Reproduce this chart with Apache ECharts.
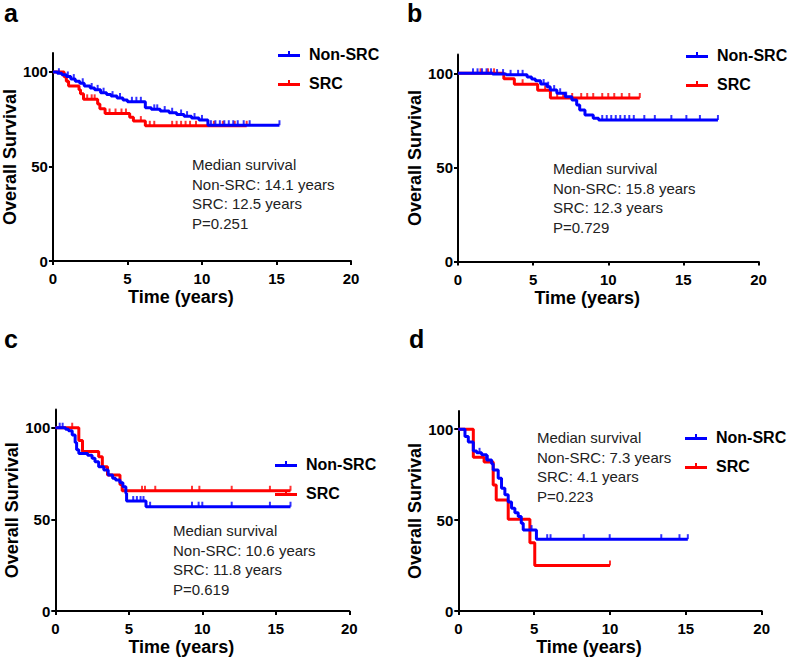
<!DOCTYPE html>
<html><head><meta charset="utf-8">
<script src="https://cdn.jsdelivr.net/npm/echarts@6/dist/echarts.min.js"></script>
<style>html,body{margin:0;padding:0;background:#fff}#c{width:787px;height:661px}</style>
</head><body><div id="c"></div>
<script>
// ---------- data ----------
const xTickValues = [0, 5, 10, 15, 20];
const yTickValues = [0, 50, 100];
const seriesNames = ['Non-SRC', 'SRC'];

// Panel a
const aNonT = [0.3,0.6,0.9,1.2,1.5,1.8,2.1,2.5,2.8,3.2,3.6,3.9,4.3,4.7,5.0,6.2,6.6,7.2,7.8,8.3,8.8,9.3,9.8,10.4];
const aNonS = [99.3,98.5,97.6,96.2,95.0,94.0,92.5,91.5,90.5,89.0,88.0,87.2,86.2,85.2,84.2,81.0,80.2,79.3,78.4,77.5,76.6,75.6,74.6,71.8];
const aNonEnd = 15.2;
const aNonCens = [0.4,1.0,1.4,2.0,2.6,3.0,3.4,4.0,4.5,5.3,5.6,5.9,6.8,7.0,7.5,8.0,8.6,9.0,9.5,10.0,10.6,10.9,11.2,11.5,11.8,12.1,12.4,12.8,13.2,15.2];
const aSrcT = [0.75,0.9,1.05,1.75,1.85,2.05,3.0,3.15,3.5,5.15,5.4,6.2];
const aSrcS = [97.5,95.0,92.5,90.5,88.5,85.5,83.0,80.5,78.0,76.0,74.0,71.5];
const aSrcEnd = 13.0;
const aSrcCens = [2.3,2.6,2.8,3.8,4.2,4.6,4.9,5.9,6.5,6.8,8.0,8.3,8.6,8.9,9.2,9.6,10.4,10.8,11.4,12.2,13.0];
const aNote = ['Median survival','Non-SRC: 14.1 years','SRC: 12.5 years','P=0.251'];

// Panel b
const bNonT = [2.3,3.2,4.6,4.9,5.15,5.5,5.92,6.14,6.58,7.14,7.58,7.9,8.1,8.45,9.0,9.36];
const bNonS = [99.6,99.2,98.0,97.0,96.1,94.3,92.9,91.1,89.4,87.6,85.8,83.2,80.5,77.9,76.1,75.2];
const bNonEnd = 17.3;
const bNonCens = [1.0,1.3,1.6,1.9,2.2,2.6,3.0,3.5,4.0,4.3,5.7,6.0,6.4,6.8,7.2,9.6,9.9,10.2,10.5,10.8,11.1,11.4,11.7,12.4,13.1,14.2,15.2,16.1,17.3];
const bSrcT = [3.05,3.75,5.3,6.15];
const bSrcS = [97.1,94.2,91.0,86.9];
const bSrcEnd = 12.1;
const bSrcCens = [1.5,2.0,2.4,4.3,5.8,6.6,7.0,7.6,8.2,8.6,9.0,9.6,10.0,10.4,10.9,11.4,12.1];
const bNote = ['Median survival','Non-SRC: 15.8 years','SRC: 12.3 years','P=0.729'];

// Panel c
const cNonT = [0.7,0.9,1.15,1.35,1.45,1.6,2.2,2.5,2.7,2.95,3.3,3.6,3.9,4.1,4.4,4.6,4.8,4.85,6.17];
const cNonS = [99.2,98.4,96.0,92.0,88.0,86.0,85.0,83.3,81.5,78.7,76.9,74.2,72.4,71.5,70.0,67.8,64.2,60.0,56.9];
const cNonEnd = 16.0;
const cNonCens = [0.3,0.5,5.3,5.55,5.8,6.0,6.45,9.3,9.75,10.0,12.0,14.6,16.0];
const cSrcT = [1.6,1.85,2.95,3.2,3.55,4.4,4.55];
const cSrcS = [93.0,87.0,84.2,78.7,74.2,69.0,65.6];
const cSrcEnd = 16.0;
const cSrcCens = [1.15,5.9,6.1,6.8,9.3,9.8,12.0,14.6,16.0];
const cNote = ['Median survival','Non-SRC: 10.6 years','SRC: 11.8 years','P=0.619'];

// Panel d
const dNonT = [0.44,0.66,0.99,1.21,1.54,1.87,2.2,2.3,2.63,2.85,3.07,3.29,3.51,3.73,3.95,4.15,4.28,5.15];
const dNonS = [96.0,93.0,88.0,87.0,86.0,83.0,81.0,77.6,73.0,67.5,64.0,60.0,56.5,54.0,52.0,48.3,44.5,39.5];
const dNonEnd = 15.13;
const dNonCens = [1.4,1.95,4.83,5.86,6.08,8.27,9.98,13.38,14.58,15.13];
const dSrcT = [0.99,1.7,2.3,2.5,3.29,4.72,5.04];
const dSrcS = [84.6,82.0,69.3,61.0,50.5,37.6,25.0];
const dSrcEnd = 10.0;
const dSrcCens = [10.0];
const dNote = ['Median survival','Non-SRC: 7.3 years','SRC: 4.1 years','P=0.223'];

// ---------- layout ----------
const BLUE = '#0000ff', RED = '#ff0000';
const FONT = '"Liberation Sans", Arial, sans-serif';
const layouts = [
  {grid:{left:52, top:53, width:299, height:208}, label:'a', labelPos:[4,0], legend:[273,41], note:[192,155], yGap:31, xGap:27},
  {grid:{left:458, top:54.5, width:300.5, height:207}, label:'b', labelPos:[407,0], legend:[681,42], note:[553,159], yGap:27, xGap:27},
  {grid:{left:55.3, top:409.4, width:294, height:201.6}, label:'c', labelPos:[4,326], legend:[270,451], note:[173,521], yGap:31, xGap:27},
  {grid:{left:458.3, top:411, width:303.4, height:200}, label:'d', labelPos:[409,326], legend:[680,424], note:[537,428], yGap:24, xGap:27}
];
const panelData = [
  {non:[aNonT,aNonS,aNonEnd,aNonCens], src:[aSrcT,aSrcS,aSrcEnd,aSrcCens], note:aNote},
  {non:[bNonT,bNonS,bNonEnd,bNonCens], src:[bSrcT,bSrcS,bSrcEnd,bSrcCens], note:bNote},
  {non:[cNonT,cNonS,cNonEnd,cNonCens], src:[cSrcT,cSrcS,cSrcEnd,cSrcCens], note:cNote},
  {non:[dNonT,dNonS,dNonEnd,dNonCens], src:[dSrcT,dSrcS,dSrcEnd,dSrcCens], note:dNote}
];

function stepLine(T, S, end) {
  const d = [[0, 100]];
  for (let i = 0; i < T.length; i++) d.push([T[i], S[i]]);
  d.push([end, S[S.length - 1]]);
  return d;
}
function survAt(T, S, t) {
  let v = 100;
  for (let i = 0; i < T.length; i++) if (T[i] <= t) v = S[i];
  return v;
}
function censors(T, S, C) { return C.map(t => [t, survAt(T, S, t)]); }

const grids = [], xAxes = [], yAxes = [], series = [], legends = [], graphics = [];
layouts.forEach((L, i) => {
  const P = panelData[i];
  grids.push(L.grid);
  xAxes.push({
    gridIndex: i, type: 'value', min: 0, max: 20, interval: 5,
    name: 'Time (years)', nameLocation: 'middle', nameGap: L.xGap,
    nameTextStyle: {fontFamily: FONT, fontWeight: 'bold', fontSize: 18, color: '#000', padding: [0, 42, 0, 0]},
    axisLine: {lineStyle: {color: '#000', width: 2}},
    axisTick: {length: 4, lineStyle: {color: '#000', width: 2}},
    axisLabel: {fontFamily: FONT, fontWeight: 'bold', fontSize: 15, color: '#000', margin: 10},
    splitLine: {show: false}
  });
  yAxes.push({
    gridIndex: i, type: 'value', min: 0, max: 110, interval: 50,
    name: 'Overall Survival', nameLocation: 'middle', nameGap: L.yGap,
    nameTextStyle: {fontFamily: FONT, fontWeight: 'bold', fontSize: 18, color: '#000'},
    axisLine: {show: true, lineStyle: {color: '#000', width: 2}},
    axisTick: {show: true, length: 4, customValues: yTickValues, lineStyle: {color: '#000', width: 2}},
    axisLabel: {fontFamily: FONT, fontWeight: 'bold', fontSize: 15, color: '#000', margin: 5, customValues: yTickValues},
    splitLine: {show: false}
  });
  [['non', seriesNames[0], BLUE], ['src', seriesNames[1], RED]].forEach(([k, nm, col]) => {
    const [T, S, E, C] = P[k];
    series.push({
      type: 'line', name: nm, xAxisIndex: i, yAxisIndex: i, step: 'end',
      data: stepLine(T, S, E), showSymbol: false, symbol: 'none',
      lineStyle: {color: col, width: 3}, itemStyle: {color: col}, animation: false, z: k === 'non' ? 3 : 2
    });
    series.push({
      type: 'scatter', name: nm + ' censored', xAxisIndex: i, yAxisIndex: i,
      data: censors(T, S, C), symbol: 'rect', symbolSize: [2, 5], symbolOffset: [0, -2.5],
      itemStyle: {color: col}, animation: false, z: k === 'non' ? 3 : 2
    });
  });
  legends.push({
    data: seriesNames, orient: 'vertical', left: L.legend[0], top: L.legend[1],
    itemWidth: 22, itemHeight: 7, itemGap: 13, selectedMode: false,
    icon: 'path://M0,4h22v3h-22z M10,1h2v3h-2z',
    textStyle: {fontFamily: FONT, fontWeight: 'bold', fontSize: 16, color: '#000', padding: [0, 0, 0, 4]}
  });
  graphics.push({
    type: 'text', left: L.labelPos[0], top: L.labelPos[1],
    style: {text: L.label, font: 'bold 25px ' + FONT, fill: '#000'}
  });
  graphics.push({
    type: 'text', left: L.note[0], top: L.note[1],
    style: {text: P.note.join('\n'), font: '15px ' + FONT, fill: '#222', lineHeight: 19.5}
  });
});

const chart = echarts.init(document.getElementById('c'), null, {renderer: 'svg'});
chart.setOption({
  backgroundColor: '#fff', animation: false,
  grid: grids, xAxis: xAxes, yAxis: yAxes, series: series, legend: legends, graphic: graphics
});
</script>
</body></html>
